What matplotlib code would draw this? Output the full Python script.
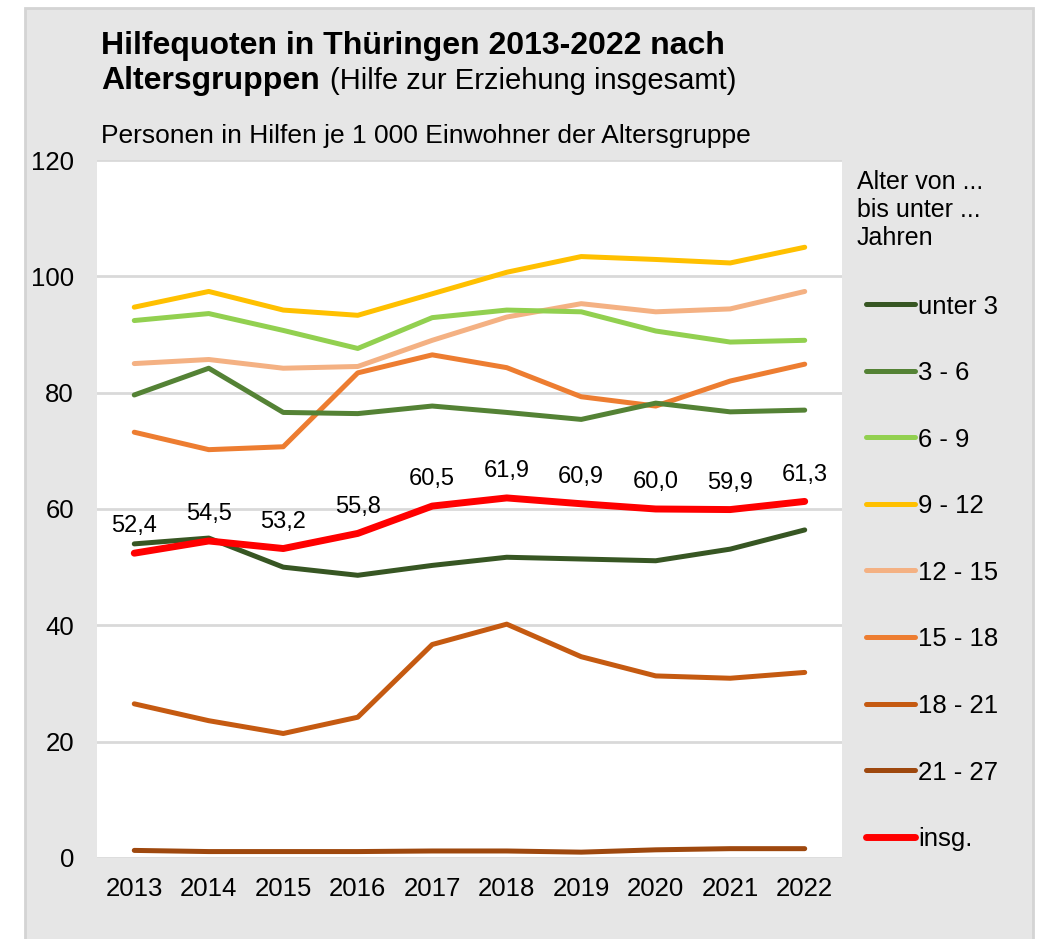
import matplotlib
matplotlib.use('Agg')
import matplotlib.pyplot as plt
from matplotlib.patches import Rectangle
from matplotlib.lines import Line2D

plt.rcParams['font.family'] = ['Liberation Sans', 'DejaVu Sans']

years = ['2013', '2014', '2015', '2016', '2017', '2018', '2019', '2020', '2021', '2022']

# Hilfequoten je 1 000 Einwohner der Altersgruppe
unter_3 = [54.0, 55.0, 50.0, 48.6, 50.3, 51.7, 51.4, 51.1, 53.1, 56.4]
a3_6 = [79.6, 84.2, 76.6, 76.4, 77.7, 76.6, 75.4, 78.2, 76.7, 77.0]
a6_9 = [92.4, 93.6, 90.7, 87.6, 92.9, 94.2, 93.9, 90.6, 88.7, 89.0]
a9_12 = [94.7, 97.4, 94.2, 93.3, 97.0, 100.7, 103.4, 102.9, 102.3, 105.0]
a12_15 = [85.0, 85.7, 84.2, 84.5, 89.0, 93.0, 95.3, 93.9, 94.4, 97.4]
a15_18 = [73.2, 70.2, 70.7, 83.4, 86.5, 84.3, 79.3, 77.7, 82.0, 84.9]
a18_21 = [26.5, 23.6, 21.4, 24.2, 36.7, 40.2, 34.6, 31.3, 30.9, 31.9]
a21_27 = [1.3, 1.1, 1.1, 1.1, 1.2, 1.2, 1.0, 1.4, 1.6, 1.6]
insg = [52.4, 54.5, 53.2, 55.8, 60.5, 61.9, 60.9, 60.0, 59.9, 61.3]

labels = ['unter 3', '3 - 6', '6 - 9', '9 - 12', '12 - 15', '15 - 18', '18 - 21', '21 - 27', 'insg.']
series = [unter_3, a3_6, a6_9, a9_12, a12_15, a15_18, a18_21, a21_27, insg]
colors = ['#375623', '#548235', '#92d050', '#ffc000', '#f4b183',
          '#ed7d31', '#c55a11', '#9e480e', '#ff0000']

W, H = 1041, 939
fig = plt.figure(figsize=(W / 100, H / 100), dpi=100)
fig.patch.set_facecolor('white')
# grey panel behind the chart
fig.add_artist(Rectangle((0.024, -0.01), 0.968, 1.002, transform=fig.transFigure,
                         facecolor='#e6e6e6', edgecolor='#d4d4d4', linewidth=2, zorder=0))

ax = fig.add_axes([0.0932, 0.0863, 0.7156, 0.7433])
ax.set_facecolor('white')
ax.set_zorder(1)

x = list(range(len(years)))
# draw back-to-front like the original (first series on top)
for name, vals, col in reversed(list(zip(labels, series, colors))):
    lw = 5.0 if name == 'insg.' else 3.6
    ax.plot(x, vals, color=col, lw=lw, solid_capstyle='round', solid_joinstyle='round',
            zorder=5 if name == 'insg.' else 3)

for xi, v in zip(x, insg):
    ax.annotate(f'{v:.1f}'.replace('.', ','), (xi, v), xytext=(0, 15),
                textcoords='offset points', ha='center', va='baseline', fontsize=17)

ax.set_xlim(-0.5, 9.5)
ax.set_ylim(0, 120)
ax.set_yticks(range(0, 121, 20))
ax.set_xticks(x)
ax.set_xticklabels(years)
ax.tick_params(axis='both', length=0, labelsize=18.5, colors='black')
ax.tick_params(axis='y', pad=16.5)
ax.tick_params(axis='x', pad=14)
ax.grid(axis='y', color='#d9d9d9', lw=2)
ax.set_axisbelow(True)
for s in ax.spines.values():
    s.set_visible(False)

# legend, drawn by hand to match the original spacing
fig.text(857 / W, 1 - 170 / H, 'Alter von ...\nbis unter ...\nJahren', fontsize=18,
         va='top', ha='left', linespacing=1.2)
for i, (name, col) in enumerate(zip(labels, colors)):
    yy = 1 - (304 + i * 66.6) / H
    lw = 5.0 if name == 'insg.' else 3.6
    fig.add_artist(Line2D([866 / W, 915 / W], [yy, yy], color=col, lw=lw,
                          solid_capstyle='round', transform=fig.transFigure))
    fig.text(918 / W, yy, name, fontsize=18.5, va='center_baseline', ha='left')

fig.text(0.097, 0.9425, 'Hilfequoten in Thüringen 2013-2022 nach',
         fontsize=23, fontweight='bold', va='baseline')
fig.text(0.097, 0.9052, 'Altersgruppen', fontsize=23, fontweight='bold', va='baseline')
fig.text(0.317, 0.9052, '(Hilfe zur Erziehung insgesamt)', fontsize=21, va='baseline')
fig.text(0.097, 0.8477, 'Personen in Hilfen je 1 000 Einwohner der Altersgruppe',
         fontsize=19, va='baseline')

fig.savefig('out.png', dpi=100)
